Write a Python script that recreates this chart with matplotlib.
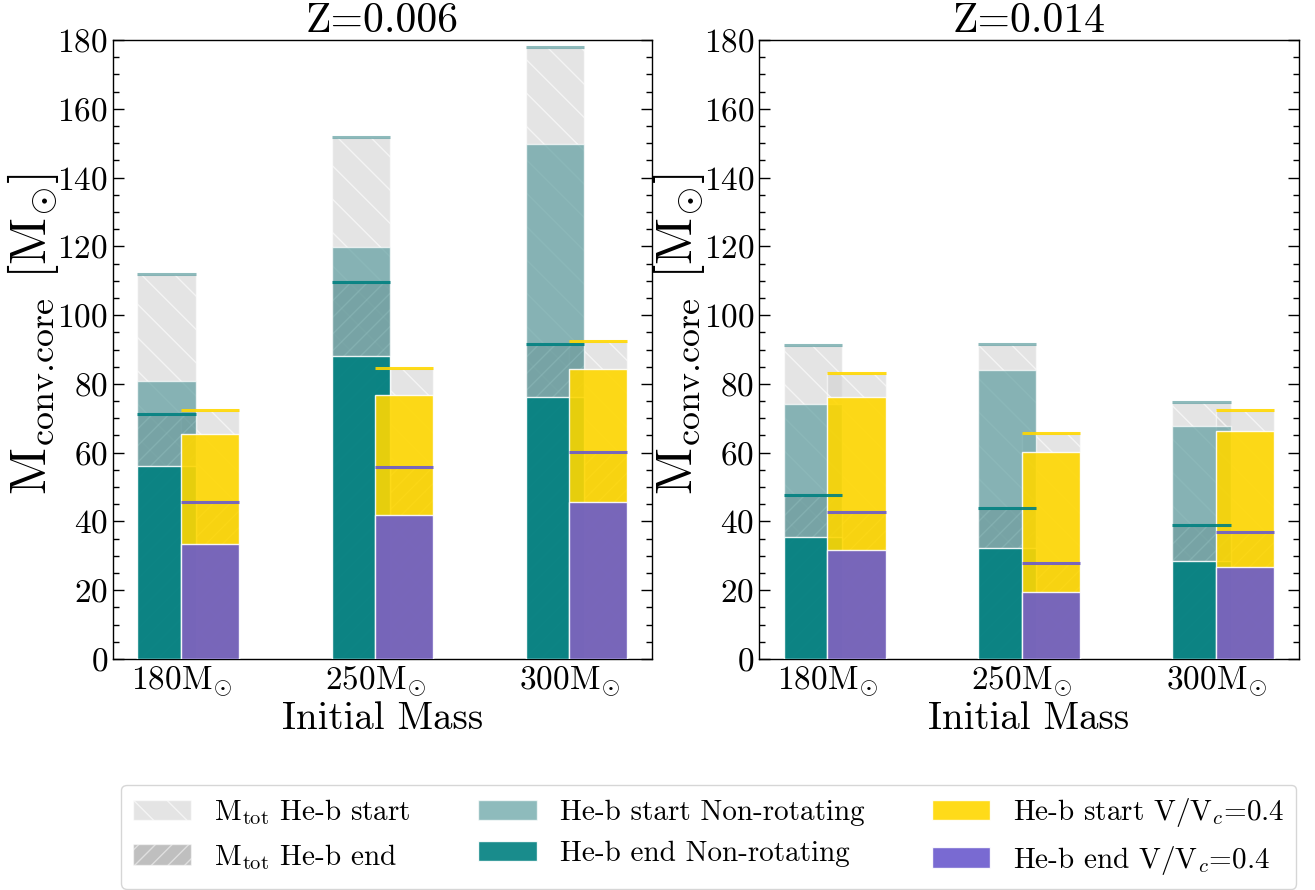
import numpy as np
import matplotlib
matplotlib.use("Agg")
import matplotlib.pyplot as plt
from matplotlib.patches import Patch
from matplotlib.ticker import MultipleLocator

plt.rcParams["font.family"] = "serif"
plt.rcParams["font.serif"] = ["cmr10"]
plt.rcParams["mathtext.fontset"] = "cm"
plt.rcParams["axes.formatter.use_mathtext"] = True
plt.rcParams["axes.unicode_minus"] = False
plt.rcParams["hatch.linewidth"] = 1.0

# Initial masses (Msun) and metallicities
mass_labels = ["180", "250", "300"]
titles = ["Z=0.006", "Z=0.014"]

# Z = 0.006 ----------------------------------------------------------
# non-rotating models
tot_start_nr_z006 = [112.0, 151.8, 177.9]
tot_end_nr_z006 = [71.2, 109.6, 91.6]
core_start_nr_z006 = [80.8, 119.8, 149.8]
core_end_nr_z006 = [56.1, 88.1, 76.3]
# rotating models, V/Vc = 0.4
tot_start_r_z006 = [72.5, 84.6, 92.6]
tot_end_r_z006 = [45.6, 55.8, 60.3]
core_start_r_z006 = [65.3, 76.8, 84.4]
core_end_r_z006 = [33.4, 41.9, 45.6]

# Z = 0.014 ----------------------------------------------------------
tot_start_nr_z014 = [91.2, 91.7, 74.7]
tot_end_nr_z014 = [47.8, 43.8, 39.1]
core_start_nr_z014 = [74.1, 84.0, 67.7]
core_end_nr_z014 = [35.4, 32.4, 28.6]
tot_start_r_z014 = [83.3, 65.7, 72.4]
tot_end_r_z014 = [42.7, 27.9, 37.0]
core_start_r_z014 = [76.1, 60.1, 66.2]
core_end_r_z014 = [31.6, 19.4, 26.8]

panels = [
    (tot_start_nr_z006, tot_end_nr_z006, core_start_nr_z006, core_end_nr_z006,
     tot_start_r_z006, tot_end_r_z006, core_start_r_z006, core_end_r_z006),
    (tot_start_nr_z014, tot_end_nr_z014, core_start_nr_z014, core_end_nr_z014,
     tot_start_r_z014, tot_end_r_z014, core_start_r_z014, core_end_r_z014),
]

# styles
tot_start_kw = dict(color="lightgray", alpha=0.6, hatch="\\", edgecolor="white", linewidth=1)
tot_end_kw = dict(color="gray", alpha=0.5, hatch="//", edgecolor="white", linewidth=1)
c_start_nr, a_start_nr = "cadetblue", 0.7
c_end_nr, a_end_nr = "teal", 0.9
c_start_r, a_start_r = "gold", 0.9
c_end_r, a_end_r = "slateblue", 0.9

width = 0.3
x = np.arange(len(mass_labels))
x_nr = x - 0.075
x_r = x + 0.15

fig = plt.figure(figsize=(13.15, 8.9), dpi=100)
ax1 = fig.add_axes([0.0859, 0.2596, 0.4099, 0.6954])
ax2 = fig.add_axes([0.5772, 0.2596, 0.4106, 0.6954])

for ax, title, data in zip([ax1, ax2], titles, panels):
    (ts_nr, te_nr, cs_nr, ce_nr, ts_r, te_r, cs_r, ce_r) = data

    # total mass at start / end of He burning (hatched backgrounds)
    ax.bar(x_nr, ts_nr, width, zorder=1, **tot_start_kw)
    ax.bar(x_r, ts_r, width, zorder=1, **tot_start_kw)
    ax.bar(x_nr, te_nr, width, zorder=2, **tot_end_kw)
    ax.bar(x_r, te_r, width, zorder=2, **tot_end_kw)

    # convective core masses
    ax.bar(x_nr, cs_nr, width, color=c_start_nr, alpha=a_start_nr,
           edgecolor="white", linewidth=1, zorder=3)
    ax.bar(x_nr, ce_nr, width, color=c_end_nr, alpha=a_end_nr,
           edgecolor="white", linewidth=1, zorder=4)
    ax.bar(x_r, cs_r, width, color=c_start_r, alpha=a_start_r,
           edgecolor="white", linewidth=1, zorder=5)
    ax.bar(x_r, ce_r, width, color=c_end_r, alpha=a_end_r,
           edgecolor="white", linewidth=1, zorder=6)

    # markers for total masses
    ax.hlines(ts_nr, x_nr - width / 2, x_nr + width / 2, color=c_start_nr,
              alpha=a_start_nr, linewidth=2.2, zorder=7)
    ax.hlines(te_nr, x_nr - width / 2, x_nr + width / 2, color=c_end_nr,
              alpha=a_end_nr, linewidth=2.2, zorder=7)
    ax.hlines(ts_r, x_r - width / 2, x_r + width / 2, color=c_start_r,
              alpha=a_start_r, linewidth=2.2, zorder=7)
    ax.hlines(te_r, x_r - width / 2, x_r + width / 2, color=c_end_r,
              alpha=a_end_r, linewidth=2.2, zorder=7)

    ax.set_ylim(0, 180)
    ax.yaxis.set_major_locator(MultipleLocator(20))
    ax.yaxis.set_minor_locator(MultipleLocator(5))
    ax.set_xticks(x)
    ax.set_xticklabels([m + r"M$_{\odot}$" for m in mass_labels])
    ax.tick_params(axis="y", which="both", direction="in", left=True, right=True,
                   labelsize=24)
    ax.tick_params(axis="y", which="major", length=8, width=1)
    ax.tick_params(axis="y", which="minor", length=4, width=1)
    ax.tick_params(axis="x", length=0, labelsize=24, pad=4)
    ax.set_xlabel("Initial Mass", fontsize=28, labelpad=2)
    ax.set_ylabel(r"M$_{\text{conv.core}}$ [M$_{\odot}$]", fontsize=37)
    ax.yaxis.set_label_coords(-0.097, 0.524)
    ax.set_title(title, fontsize=30, pad=2)
    for s in ax.spines.values():
        s.set_linewidth(1.0)

handles = [
    Patch(facecolor="lightgray", alpha=0.6, hatch="\\", edgecolor="white"),
    Patch(facecolor="gray", alpha=0.5, hatch="//", edgecolor="white"),
    Patch(facecolor=c_start_nr, alpha=a_start_nr, edgecolor="white"),
    Patch(facecolor=c_end_nr, alpha=a_end_nr, edgecolor="white"),
    Patch(facecolor=c_start_r, alpha=a_start_r, edgecolor="white"),
    Patch(facecolor=c_end_r, alpha=a_end_r, edgecolor="white"),
]
labels = [
    r"M$_{\rm tot}$ He-b start",
    r"M$_{\rm tot}$ He-b end",
    "He-b start Non-rotating",
    "He-b end Non-rotating",
    r"He-b start V/V$_c$=0.4",
    r"He-b end V/V$_c$=0.4",
]
fig.legend(handles, labels, loc="lower center", bbox_to_anchor=(0.539, 0.0),
           borderaxespad=0.05, ncol=3, fontsize=21, columnspacing=2.3,
           frameon=True, fancybox=True)

fig.savefig("out.png", dpi=100)
